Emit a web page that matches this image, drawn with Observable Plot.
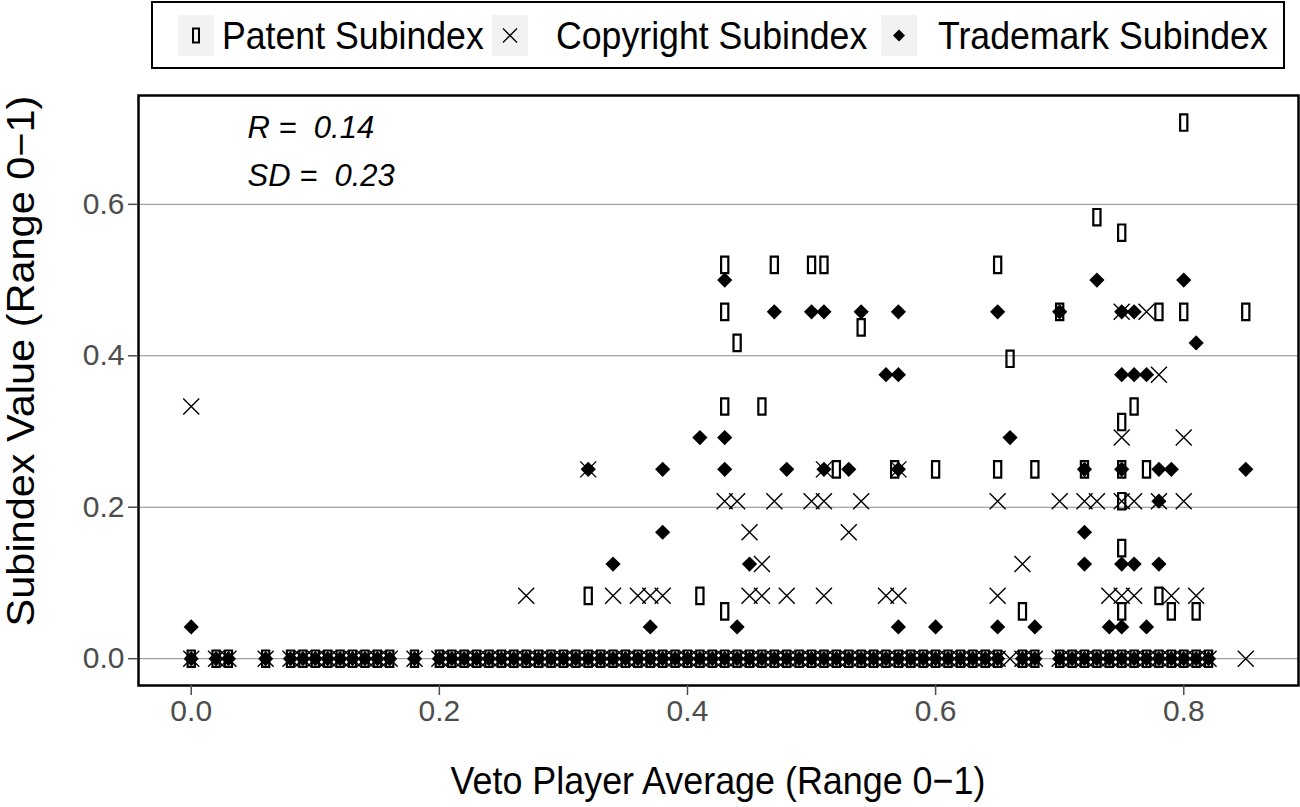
<!DOCTYPE html>
<html>
<head>
<meta charset="utf-8">
<script src="https://cdn.jsdelivr.net/npm/d3@7"></script>
<script src="https://cdn.jsdelivr.net/npm/@observablehq/plot@0.6"></script>
<style>
  body { margin: 0; background: white; }
  #wrap { position: relative; width: 1300px; height: 807px; font-family: "Liberation Sans", Arial, sans-serif; }
  #overlay { position: absolute; left: 0; top: 0; pointer-events: none; }
</style>
</head>
<body>
<div id="wrap">
  <div id="chart"></div>
</div>
<script>
// ---------- data ----------
const seriesNames = ["Patent Subindex", "Copyright Subindex", "Trademark Subindex"];
const xTicks = [0, 0.2, 0.4, 0.6, 0.8];
const yTicks = [0, 0.2, 0.4, 0.6];
const statLines = ["R =\u00a0 0.14", "SD =\u00a0 0.23"];

// x positions of observations where all three subindices are 0
const zeroX = [0, 0.02, 0.03, 0.06, 0.08, 0.09, 0.10, 0.11, 0.12, 0.13, 0.14, 0.15, 0.16, 0.18,
  0.20, 0.21, 0.22, 0.23, 0.24, 0.25, 0.26, 0.27, 0.28, 0.29, 0.30, 0.31, 0.32, 0.33, 0.34, 0.35,
  0.36, 0.37, 0.38, 0.39, 0.40, 0.41, 0.42, 0.43, 0.44, 0.45, 0.46, 0.47, 0.48, 0.49, 0.50, 0.51,
  0.52, 0.53, 0.54, 0.55, 0.56, 0.57, 0.58, 0.59, 0.60, 0.61, 0.62, 0.63, 0.64, 0.65, 0.67, 0.68,
  0.70, 0.71, 0.72, 0.73, 0.74, 0.75, 0.76, 0.77, 0.78, 0.79, 0.80, 0.81, 0.82];

const patentX = [0.32, 0.41, 0.43, 0.43, 0.46, 0.43, 0.43, 0.44, 0.47, 0.50, 0.51, 0.52, 0.54, 0.567,
  0.60, 0.65, 0.65, 0.66, 0.67, 0.68, 0.70, 0.72, 0.73, 0.75, 0.75, 0.76, 0.75, 0.75, 0.75, 0.75,
  0.77, 0.78, 0.78, 0.79, 0.80, 0.80, 0.81, 0.85];
const patentY = [0.083, 0.083, 0.0625, 0.333, 0.333, 0.458, 0.52, 0.417, 0.52, 0.52, 0.52, 0.25, 0.4375, 0.25,
  0.25, 0.25, 0.52, 0.396, 0.0625, 0.25, 0.458, 0.25, 0.583, 0.5625, 0.3125, 0.333, 0.25, 0.208, 0.146, 0.0625,
  0.25, 0.458, 0.083, 0.0625, 0.708, 0.458, 0.0625, 0.458];

const copyrightX = [0.00, 0.27, 0.32, 0.34, 0.36, 0.37, 0.38, 0.43, 0.44, 0.45, 0.45, 0.46, 0.46, 0.47,
  0.48, 0.50, 0.51, 0.51, 0.51, 0.53, 0.54, 0.56, 0.57, 0.57, 0.65, 0.65, 0.67, 0.70, 0.72, 0.73,
  0.74, 0.75, 0.75, 0.75, 0.75, 0.76, 0.76, 0.77, 0.78, 0.78, 0.79, 0.80, 0.80, 0.81, 0.66, 0.85];
const copyrightY = [0.333, 0.083, 0.25, 0.083, 0.083, 0.083, 0.083, 0.208, 0.208, 0.167, 0.083, 0.125, 0.083, 0.208,
  0.083, 0.208, 0.208, 0.25, 0.083, 0.167, 0.208, 0.083, 0.083, 0.25, 0.208, 0.083, 0.125, 0.208, 0.208, 0.208,
  0.083, 0.083, 0.208, 0.292, 0.458, 0.208, 0.083, 0.458, 0.208, 0.375, 0.083, 0.208, 0.292, 0.083, 0, 0];

const trademarkX = [0.00, 0.32, 0.34, 0.37, 0.38, 0.38, 0.41, 0.43, 0.43, 0.43, 0.44, 0.45, 0.47, 0.48,
  0.50, 0.51, 0.51, 0.53, 0.54, 0.56, 0.57, 0.57, 0.57, 0.57, 0.60, 0.65, 0.65, 0.66, 0.68, 0.70,
  0.72, 0.72, 0.72, 0.73, 0.74, 0.75, 0.75, 0.75, 0.75, 0.75, 0.76, 0.76, 0.76, 0.77, 0.77, 0.78,
  0.78, 0.78, 0.79, 0.80, 0.81, 0.85];
const trademarkY = [0.042, 0.25, 0.125, 0.042, 0.25, 0.167, 0.292, 0.292, 0.25, 0.5, 0.042, 0.125, 0.458, 0.25,
  0.458, 0.458, 0.25, 0.25, 0.458, 0.375, 0.375, 0.458, 0.25, 0.042, 0.042, 0.458, 0.042, 0.292, 0.042, 0.458,
  0.25, 0.167, 0.125, 0.5, 0.042, 0.042, 0.458, 0.375, 0.25, 0.125, 0.458, 0.375, 0.125, 0.375, 0.042, 0.25,
  0.208, 0.125, 0.25, 0.5, 0.417, 0.25];

// ---------- build tables ----------
const zeros = zeroX.map(x => ({x, y: 0}));
const patent = patentX.map((x, i) => ({x, y: patentY[i]})).concat(zeros);
const copyright = copyrightX.map((x, i) => ({x, y: copyrightY[i]})).concat(zeros);
const trademark = trademarkX.map((x, i) => ({x, y: trademarkY[i]})).concat(zeros);

// ---------- symbols ----------
const symPatent = {draw(c) { c.moveTo(-3.6, -8.2); c.lineTo(3.6, -8.2); c.lineTo(3.6, 8.2); c.lineTo(-3.6, 8.2); c.closePath(); }};
const symTimes = {draw(c) { c.moveTo(-8, -8); c.lineTo(8, 8); c.moveTo(8, -8); c.lineTo(-8, 8); }};
const symDiamond = {draw(c) { c.moveTo(0, -7.6); c.lineTo(7.6, 0); c.lineTo(0, 7.6); c.lineTo(-7.6, 0); c.closePath(); }};

const FONT = "Liberation Sans, Arial, sans-serif";
const fmt = d => d.toFixed(1);

const chart = Plot.plot({
  width: 1300,
  height: 807,
  marginLeft: 138,
  marginRight: 2,
  marginTop: 95,
  marginBottom: 122,
  style: {fontFamily: FONT, background: "white"},
  x: {domain: [-0.0425, 0.8925]},
  y: {domain: [-0.0354, 0.7437]},
  marks: [
    Plot.gridY(yTicks, {stroke: "#8a8a8a", strokeOpacity: 1, strokeWidth: 1}),
    Plot.dot(patent, {x: "x", y: "y", symbol: symPatent, fill: "none", stroke: "black", strokeWidth: 2.2}),
    Plot.dot(trademark, {x: "x", y: "y", symbol: symDiamond, fill: "black", stroke: "none"}),
    Plot.dot(copyright, {x: "x", y: "y", symbol: symTimes, fill: "none", stroke: "black", strokeWidth: 1.4}),
    Plot.frame({stroke: "black", strokeWidth: 2.5}),
    Plot.axisX(xTicks, {tickFormat: fmt, tickSize: 10, tickPadding: 4, fontSize: 30, color: "#4d4d4d", strokeWidth: 1.5, label: null}),
    Plot.axisY(yTicks, {tickFormat: fmt, tickSize: 10, tickPadding: 4, fontSize: 30, color: "#4d4d4d", strokeWidth: 1.5, label: null}),
    Plot.text([statLines.join("\n")], {frameAnchor: "top-left", dx: 109, dy: 8, lineAnchor: "top", lineHeight: 1.55,
      textAnchor: "start", fontSize: 31, fontStyle: "italic", fill: "black"})
  ]
});
document.getElementById("chart").appendChild(chart);

// ---------- overlay: legend and axis titles ----------
const ov = d3.select("#wrap").append("svg")
  .attr("id", "overlay").attr("width", 1300).attr("height", 807)
  .attr("font-family", FONT);

ov.append("rect").attr("x", 152).attr("y", 2).attr("width", 1132).attr("height", 66)
  .attr("fill", "white").attr("stroke", "black").attr("stroke-width", 2);

const legendItems = [
  {name: seriesNames[0], keyX: 178, textX: 222, kind: "patent"},
  {name: seriesNames[1], keyX: 492, textX: 556, kind: "copyright"},
  {name: seriesNames[2], keyX: 881, textX: 938, kind: "trademark"}
];
legendItems.forEach(it => {
  ov.append("rect").attr("x", it.keyX).attr("y", 15).attr("width", 36).attr("height", 41).attr("fill", "#f2f2f2");
  const cx = it.keyX + 18, cy = 35.5;
  if (it.kind === "patent") {
    ov.append("rect").attr("x", cx - 3).attr("y", cy - 7).attr("width", 6).attr("height", 14)
      .attr("fill", "none").attr("stroke", "black").attr("stroke-width", 2);
  } else if (it.kind === "copyright") {
    ov.append("path").attr("d", `M${cx-7},${cy-7}L${cx+7},${cy+7}M${cx+7},${cy-7}L${cx-7},${cy+7}`)
      .attr("stroke", "black").attr("stroke-width", 1.3).attr("fill", "none");
  } else {
    ov.append("path").attr("d", `M${cx},${cy-6}L${cx+6},${cy}L${cx},${cy+6}L${cx-6},${cy}Z`).attr("fill", "black");
  }
  ov.append("text").attr("transform", `translate(${it.textX},49) scale(0.915,1)`)
    .attr("font-size", 39).attr("fill", "black").text(it.name);
});

ov.append("text").attr("transform", "translate(718,794) scale(0.92,1)").attr("text-anchor", "middle")
  .attr("font-size", 39).attr("fill", "black").text("Veto Player Average (Range 0\u22121)");
ov.append("text").attr("transform", "translate(34,361) scale(0.92,1) rotate(-90)").attr("text-anchor", "middle")
  .attr("font-size", 41.5).attr("fill", "black").text("Subindex Value (Range 0\u22121)");
</script>
</body>
</html>
